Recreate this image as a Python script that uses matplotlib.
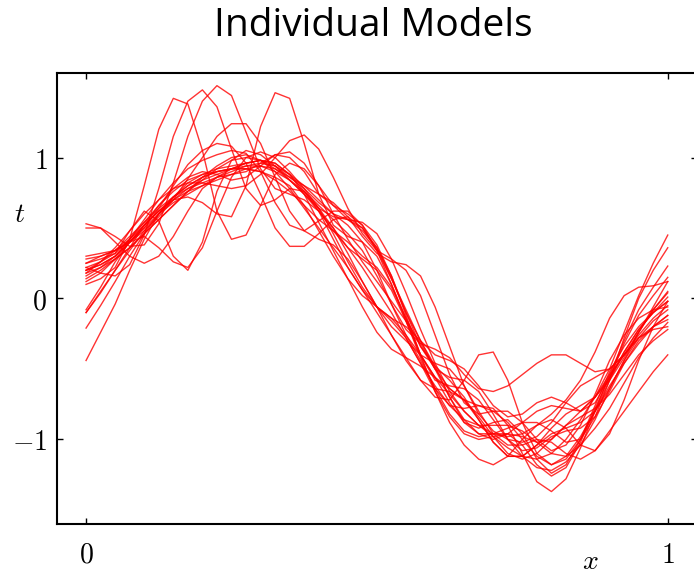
import numpy as np
import matplotlib
matplotlib.use("Agg")
import matplotlib.pyplot as plt

plt.rcParams["mathtext.fontset"] = "cm"

# sample positions shared by every fitted curve
x_grid = np.linspace(0.0, 1.0, 41)

# one list of fitted values per training set
fit_01 = [0.10, 0.14, 0.22, 0.42, 0.80, 1.20, 1.42, 1.38, 1.05, 0.62, 0.42, 0.45, 0.66, 0.88, 0.96, 0.92, 0.80, 0.66, 0.56, 0.48, 0.36,
          0.16, -0.12, -0.40, -0.58, -0.62, -0.64, -0.72, -0.86, -1.00, -1.08, -1.06, -0.98, -0.94, -0.92, -0.84, -0.66, -0.46, -0.30, -0.20, -0.12]
fit_02 = [0.22, 0.18, 0.16, 0.24, 0.45, 0.78, 1.15, 1.40, 1.48, 1.36, 1.06, 0.78, 0.66, 0.70, 0.78, 0.76, 0.64, 0.46, 0.26, 0.08, -0.06,
          -0.14, -0.20, -0.30, -0.48, -0.70, -0.88, -0.96, -0.96, -0.92, -0.88, -0.88, -0.94, -1.02, -1.00, -0.84, -0.58, -0.28, 0.00, 0.20, 0.36]
fit_03 = [0.50, 0.50, 0.44, 0.37, 0.38, 0.53, 0.82, 1.15, 1.40, 1.51, 1.44, 1.18, 0.92, 0.78, 0.74, 0.70, 0.62, 0.50, 0.32, 0.12, -0.06,
          -0.20, -0.30, -0.40, -0.56, -0.74, -0.88, -0.92, -0.88, -0.86, -0.96, -1.14, -1.24, -1.18, -1.00, -0.76, -0.52, -0.34, -0.20, -0.10, -0.02]
fit_04 = [0.20, 0.24, 0.30, 0.40, 0.52, 0.62, 0.70, 0.72, 0.68, 0.60, 0.58, 0.80, 1.22, 1.46, 1.42, 1.10, 0.74, 0.52, 0.44, 0.40, 0.30,
          0.10, -0.16, -0.40, -0.56, -0.64, -0.72, -0.86, -1.02, -1.12, -1.12, -1.04, -0.92, -0.82, -0.76, -0.70, -0.58, -0.42, -0.24, -0.06, 0.12]
fit_05 = [0.25, 0.30, 0.34, 0.40, 0.48, 0.58, 0.70, 0.85, 1.00, 1.15, 1.24, 1.24, 1.10, 0.86, 0.62, 0.48, 0.42, 0.38, 0.28, 0.12, -0.06,
          -0.26, -0.44, -0.58, -0.64, -0.66, -0.72, -0.84, -0.98, -1.10, -1.14, -1.10, -1.00, -0.90, -0.84, -0.78, -0.68, -0.54, -0.40, -0.30, -0.22]
fit_06 = [0.18, 0.26, 0.36, 0.48, 0.60, 0.70, 0.78, 0.82, 0.82, 0.80, 0.78, 0.80, 0.88, 1.00, 1.12, 1.16, 1.06, 0.86, 0.64, 0.46, 0.34,
          0.28, 0.20, 0.02, -0.26, -0.54, -0.74, -0.82, -0.80, -0.80, -0.88, -1.00, -1.08, -1.04, -0.90, -0.68, -0.44, -0.26, -0.14, -0.08, -0.06]
fit_07 = [0.20, 0.24, 0.30, 0.42, 0.56, 0.70, 0.82, 0.92, 0.98, 1.02, 1.05, 1.03, 0.90, 0.68, 0.52, 0.48, 0.55, 0.62, 0.62, 0.52, 0.34,
          0.10, -0.14, -0.34, -0.48, -0.58, -0.70, -0.86, -1.02, -1.12, -1.12, -1.04, -0.96, -0.92, -0.88, -0.80, -0.64, -0.44, -0.24, -0.08, 0.04]
fit_08 = [0.30, 0.32, 0.34, 0.40, 0.50, 0.64, 0.80, 0.95, 1.05, 1.10, 1.08, 0.96, 0.74, 0.50, 0.37, 0.37, 0.46, 0.56, 0.58, 0.50, 0.34,
          0.14, -0.08, -0.30, -0.50, -0.64, -0.72, -0.76, -0.80, -0.88, -1.00, -1.12, -1.18, -1.14, -1.00, -0.80, -0.58, -0.38, -0.22, -0.10, 0.01]
fit_09 = [0.12, 0.18, 0.28, 0.40, 0.52, 0.62, 0.70, 0.76, 0.80, 0.84, 0.88, 0.92, 0.94, 0.92, 0.86, 0.80, 0.74, 0.68, 0.58, 0.44, 0.32,
          0.26, 0.24, 0.16, -0.06, -0.34, -0.62, -0.82, -0.94, -1.00, -1.02, -0.98, -0.88, -0.74, -0.62, -0.56, -0.50, -0.40, -0.26, -0.14, -0.05]
fit_10 = [0.14, 0.20, 0.28, 0.36, 0.46, 0.56, 0.66, 0.76, 0.86, 0.94, 1.00, 1.02, 0.98, 0.90, 0.78, 0.64, 0.50, 0.36, 0.22, 0.06, -0.10,
          -0.26, -0.42, -0.58, -0.70, -0.72, -0.58, -0.40, -0.38, -0.58, -0.88, -1.10, -1.18, -1.12, -0.98, -0.80, -0.62, -0.46, -0.32, -0.20, -0.12]
fit_11 = [-0.10, 0.05, 0.20, 0.34, 0.48, 0.60, 0.70, 0.78, 0.84, 0.88, 0.92, 0.96, 0.98, 0.96, 0.88, 0.76, 0.62, 0.48, 0.36, 0.28, 0.20,
          0.06, -0.16, -0.42, -0.64, -0.76, -0.78, -0.76, -0.78, -0.90, -1.10, -1.30, -1.37, -1.28, -1.06, -0.80, -0.54, -0.30, -0.08, 0.08, 0.23]
fit_12 = [0.22, 0.26, 0.32, 0.42, 0.54, 0.66, 0.76, 0.84, 0.88, 0.90, 0.92, 0.94, 0.94, 0.90, 0.84, 0.76, 0.66, 0.56, 0.46, 0.34, 0.16,
          -0.04, -0.22, -0.32, -0.36, -0.42, -0.54, -0.64, -0.66, -0.62, -0.54, -0.46, -0.40, -0.40, -0.46, -0.52, -0.50, -0.40, -0.24, -0.08, 0.05]
fit_13 = [0.16, 0.22, 0.30, 0.40, 0.50, 0.60, 0.68, 0.74, 0.80, 0.86, 0.92, 0.96, 0.98, 0.94, 0.86, 0.78, 0.68, 0.60, 0.56, 0.54, 0.46,
          0.28, 0.04, -0.22, -0.46, -0.66, -0.80, -0.90, -0.96, -0.98, -0.96, -0.90, -0.82, -0.72, -0.58, -0.38, -0.14, 0.02, 0.08, 0.09, 0.12]
fit_14 = [0.20, 0.26, 0.34, 0.44, 0.54, 0.64, 0.72, 0.78, 0.82, 0.86, 0.90, 0.94, 0.96, 0.94, 0.88, 0.80, 0.70, 0.60, 0.52, 0.40, 0.20,
          -0.04, -0.26, -0.40, -0.46, -0.50, -0.62, -0.80, -0.96, -1.04, -1.04, -1.00, -1.02, -1.10, -1.14, -1.08, -0.94, -0.80, -0.66, -0.52, -0.40]
fit_15 = [-0.44, -0.24, -0.04, 0.20, 0.42, 0.60, 0.72, 0.80, 0.86, 0.90, 0.92, 0.92, 0.90, 0.86, 0.80, 0.66, 0.48, 0.30, 0.14, 0.02, -0.06,
          -0.14, -0.26, -0.44, -0.64, -0.82, -0.94, -0.98, -0.96, -0.96, -1.04, -1.18, -1.26, -1.20, -1.02, -0.78, -0.56, -0.40, -0.28, -0.20, -0.15]
fit_16 = [-0.21, -0.05, 0.12, 0.30, 0.46, 0.60, 0.72, 0.82, 0.88, 0.92, 0.94, 0.96, 0.98, 0.96, 0.88, 0.74, 0.54, 0.34, 0.14, -0.06, -0.24,
          -0.36, -0.42, -0.48, -0.56, -0.68, -0.80, -0.90, -0.98, -1.06, -1.12, -1.14, -1.10, -1.00, -0.86, -0.70, -0.54, -0.40, -0.28, -0.22, -0.20]
fit_17 = [-0.10, 0.04, 0.20, 0.36, 0.52, 0.66, 0.78, 0.86, 0.90, 0.88, 0.84, 0.86, 0.94, 1.02, 1.04, 0.96, 0.80, 0.60, 0.42, 0.26, 0.12,
          -0.02, -0.16, -0.32, -0.50, -0.70, -0.86, -0.96, -1.00, -0.96, -0.88, -0.80, -0.76, -0.78, -0.80, -0.70, -0.50, -0.24, 0.02, 0.25, 0.45]
fit_18 = [-0.08, 0.08, 0.26, 0.40, 0.44, 0.36, 0.26, 0.22, 0.36, 0.62, 0.86, 1.00, 1.04, 1.00, 0.90, 0.78, 0.64, 0.50, 0.36, 0.22, 0.06,
          -0.10, -0.28, -0.46, -0.62, -0.76, -0.86, -0.90, -0.90, -0.90, -0.94, -1.02, -1.10, -1.12, -1.04, -0.86, -0.64, -0.44, -0.28, -0.16, -0.08]
fit_19 = [0.53, 0.50, 0.40, 0.30, 0.25, 0.30, 0.44, 0.62, 0.78, 0.86, 0.88, 0.90, 0.96, 1.02, 1.00, 0.90, 0.74, 0.66, 0.60, 0.52, 0.38,
          0.16, -0.10, -0.34, -0.50, -0.56, -0.58, -0.66, -0.82, -1.00, -1.12, -1.20, -1.22, -1.16, -1.04, -0.92, -0.78, -0.60, -0.42, -0.28, -0.17]
fit_20 = [0.25, 0.28, 0.32, 0.48, 0.62, 0.55, 0.30, 0.20, 0.40, 0.76, 0.98, 1.05, 1.02, 0.94, 0.84, 0.74, 0.62, 0.42, 0.22, 0.06, -0.06,
          -0.16, -0.28, -0.46, -0.66, -0.84, -0.96, -1.00, -0.98, -0.96, -0.98, -1.02, -1.00, -0.90, -0.80, -0.70, -0.56, -0.38, -0.22, -0.10, -0.02]
fit_21 = [0.28, 0.30, 0.34, 0.42, 0.52, 0.62, 0.72, 0.80, 0.86, 0.90, 0.92, 0.92, 0.90, 0.84, 0.76, 0.66, 0.56, 0.48, 0.40, 0.30, 0.22,
          0.08, -0.14, -0.40, -0.66, -0.88, -1.04, -1.14, -1.18, -1.12, -1.00, -0.90, -0.86, -0.92, -1.04, -1.08, -0.96, -0.72, -0.44, -0.20, -0.02]
fit_22 = [0.18, 0.22, 0.28, 0.36, 0.46, 0.56, 0.66, 0.76, 0.84, 0.92, 0.98, 1.00, 0.98, 0.92, 0.84, 0.74, 0.64, 0.58, 0.56, 0.50, 0.36,
          0.14, -0.10, -0.30, -0.40, -0.44, -0.50, -0.62, -0.76, -0.84, -0.82, -0.74, -0.70, -0.74, -0.80, -0.74, -0.56, -0.32, -0.12, 0.02, 0.15]

fits = [fit_01, fit_02, fit_03, fit_04, fit_05, fit_06, fit_07, fit_08, fit_09, fit_10, fit_11,
        fit_12, fit_13, fit_14, fit_15, fit_16, fit_17, fit_18, fit_19, fit_20, fit_21, fit_22]

x_ticks = [0, 1]
x_tick_labels = ["$0$", "$1$"]
y_ticks = [-1, 0, 1]
y_tick_labels = ["$-1$", "$0$", "$1$"]

fig = plt.figure(figsize=(6.94, 5.76), dpi=100)
# the frame runs a little past the right edge of the canvas
ax = fig.add_axes([0.0821, 0.0903, 0.922, 0.783])

for ys in fits:
    ax.plot(x_grid, ys, color="red", lw=1.0, alpha=0.8, solid_joinstyle="round")

ax.set_xlim(-0.05, 1.05)
ax.set_ylim(-1.6, 1.6)

ax.set_xticks(x_ticks)
ax.set_xticklabels(x_tick_labels)
ax.set_yticks(y_ticks)
ax.set_yticklabels(y_tick_labels)
ax.tick_params(direction="in", top=True, right=True, length=4.5, width=1.0,
               labelsize=20)
ax.tick_params(axis="x", pad=12)
ax.tick_params(axis="y", pad=7)
for sp in ax.spines.values():
    sp.set_linewidth(1.5)

# axis symbols sit off to the side, as in the textbook layout
ax.text(0.866, -1.86, "$x$", fontsize=20, ha="center", va="center", clip_on=False)
ax.text(-0.115, 0.6, "$t$", fontsize=20, ha="center", va="center", clip_on=False)

fig.text(0.538, 1 - 36 / 576, "Individual Models", family="Open Sans",
         fontsize=28, ha="center", va="baseline")

fig.savefig("out.png", dpi=100)
